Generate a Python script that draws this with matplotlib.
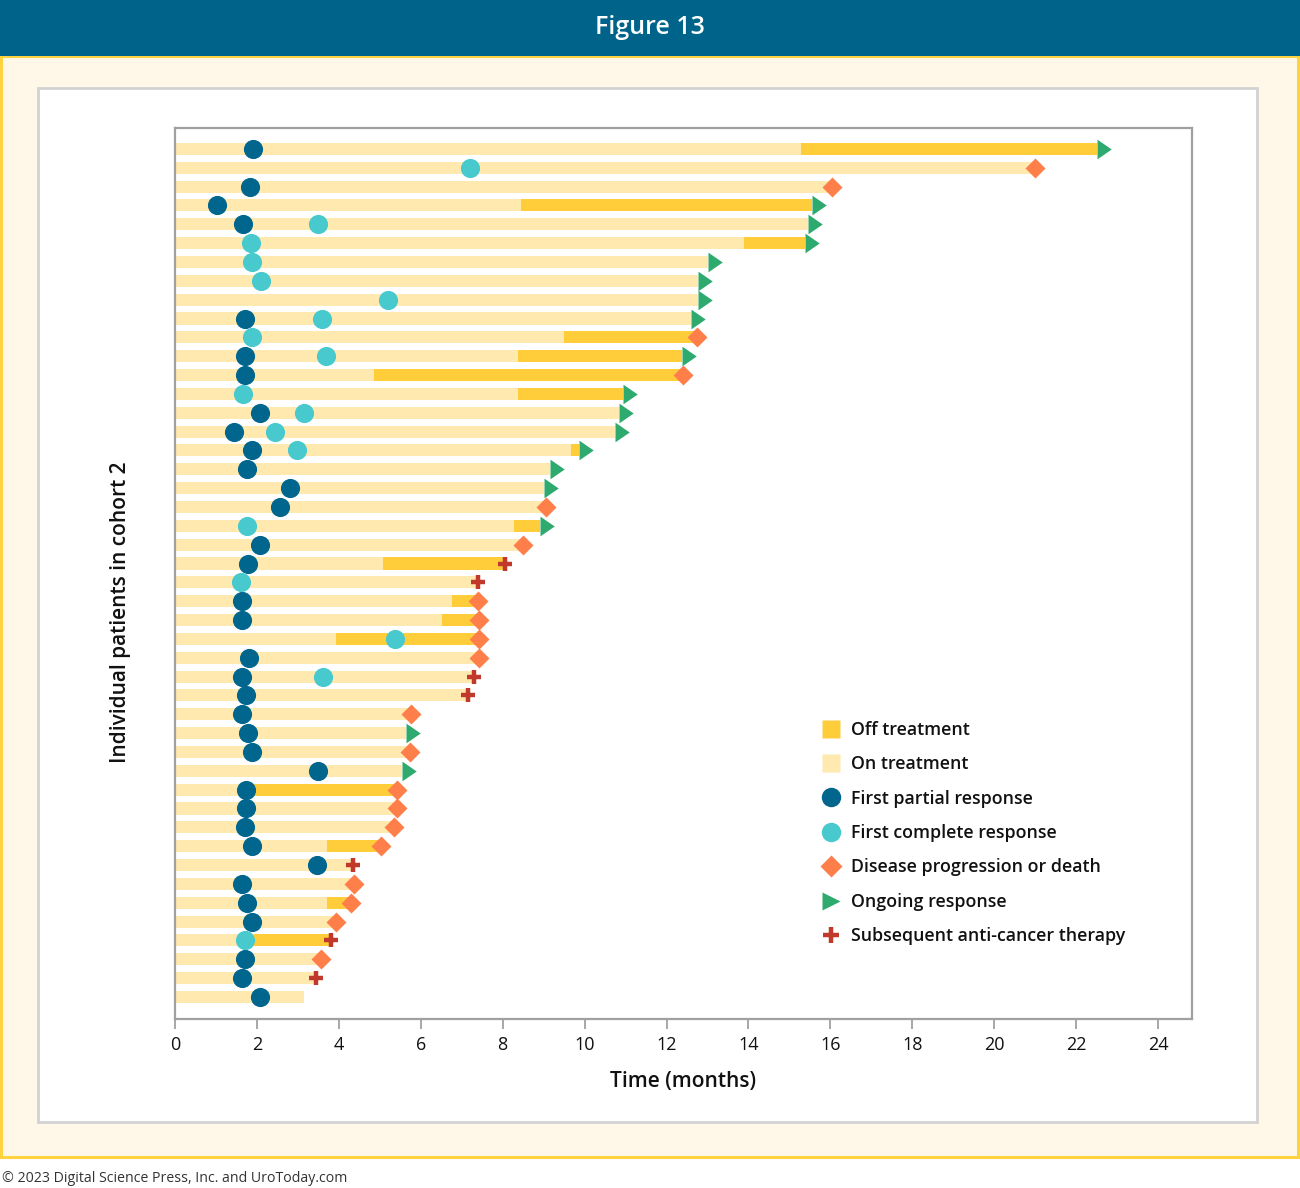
import numpy as np
import matplotlib
matplotlib.use("Agg")
import matplotlib.pyplot as plt
from matplotlib.patches import Rectangle
from matplotlib.path import Path
from matplotlib.lines import Line2D
from matplotlib.markers import MarkerStyle

plt.rcParams['font.family'] = ['Open Sans', 'DejaVu Sans']

nan = np.nan
# ---- data (rows listed top to bottom) ----
end_time = [22.5, 21.0, 16.05, 15.55, 15.45, 15.39, 13.02, 12.78, 12.76, 12.6,
            12.75, 12.37, 12.4, 10.95, 10.83, 10.74, 9.86, 9.15, 9.02, 9.05,
            8.90, 8.49, 8.05, 7.4, 7.4, 7.42, 7.42, 7.42, 7.3, 7.15,
            5.75, 5.64, 5.74, 5.55, 5.42, 5.42, 5.35, 5.04, 4.35, 4.38,
            4.3, 3.92, 3.8, 3.57, 3.45, 3.15]
off_start = [15.28, nan, nan, 8.44, nan, 13.88, nan, nan, nan, nan,
             9.50, 8.37, 4.85, 8.37, nan, nan, 9.68, nan, nan, nan,
             8.28, nan, 5.08, nan, 6.76, 6.53, 3.94, nan, nan, nan,
             nan, nan, nan, nan, 1.93, nan, nan, 3.72, nan, nan,
             3.72, nan, 1.93, nan, nan, nan]
partial_resp = [1.90, nan, 1.84, 1.02, 1.65, nan, nan, nan, nan, 1.71,
                nan, 1.70, 1.70, nan, 2.08, 1.43, 1.88, 1.77, 2.81, 2.56,
                nan, 2.08, 1.79, nan, 1.63, 1.63, nan, 1.80, 1.64, 1.73,
                1.64, 1.79, 1.89, 3.50, 1.74, 1.74, 1.72, 1.88, 3.46, 1.63,
                1.76, 1.88, nan, 1.70, 1.63, 2.07]
complete_resp = [nan, 7.2, nan, nan, 3.49, 1.85, 1.89, 2.10, 5.19, 3.58,
                 1.89, 3.68, nan, 1.66, 3.15, 2.45, 2.99, nan, nan, nan,
                 1.77, nan, nan, 1.61, nan, nan, 5.36, nan, 3.62, nan,
                 nan, nan, nan, nan, nan, nan, nan, nan, nan, nan,
                 nan, nan, 1.72, nan, nan, nan]
# O = ongoing response, D = disease progression or death, S = subsequent therapy, '' = none
end_event = ['O', 'D', 'D', 'O', 'O', 'O', 'O', 'O', 'O', 'O',
             'D', 'O', 'D', 'O', 'O', 'O', 'O', 'O', 'O', 'D',
             'O', 'D', 'S', 'S', 'D', 'D', 'D', 'D', 'S', 'S',
             'D', 'O', 'D', 'O', 'D', 'D', 'D', 'D', 'S', 'D',
             'D', 'D', 'S', 'D', 'S', '']
x_ticks = list(range(0, 25, 2))
legend_labels = ['Off treatment', 'On treatment', 'First partial response',
                 'First complete response', 'Disease progression or death',
                 'Ongoing response', 'Subsequent anti-cancer therapy']

# ---- colours ----
C_ON = '#FFE9AE'
C_OFF = '#FFCD3A'
C_PR = '#00668E'
C_CR = '#48C9CE'
C_PD = '#FF7F4A'
C_ONG = '#2EAA6E'
C_SUB = '#C0392B'

W, H = 1300, 1188
fig = plt.figure(figsize=(W / 100, H / 100), dpi=100, facecolor='white')

def fx(px):
    return px / W

def fy(py):
    return 1 - py / H

# frame decorations
fig.patches.append(Rectangle((fx(1), fy(1157)), fx(1297), (1157 - 56) / H, transform=fig.transFigure,
                             facecolor='#FFF8E8', edgecolor='#FFD23F', lw=2.2, zorder=-10))
fig.patches.append(Rectangle((0, fy(56)), 1, 56 / H, transform=fig.transFigure,
                             facecolor='#00648A', edgecolor='none', zorder=-9))
fig.patches.append(Rectangle((fx(38), fy(1122)), fx(1257 - 38), (1122 - 88) / H, transform=fig.transFigure,
                             facecolor='white', edgecolor='#D2D2D2', lw=2, zorder=-8))
fig.text(0.5, fy(28), 'Figure 13', ha='center', va='center', color='white', fontsize=18,
         fontweight='semibold', family=['Open Sans', 'DejaVu Sans'])
fig.text(fx(2), fy(1178), '\u00a9 2023 Digital Science Press, Inc. and UroToday.com', ha='left', va='center',
         color='#333333', fontsize=10.2)

ax = fig.add_axes([fx(175), fy(1019), fx(1192 - 175), (1019 - 128) / H])
ax.set_zorder(2)
ax.set_facecolor('white')
n = len(end_time)
y = np.arange(n, 0, -1)
bar_h = 0.64

end_arr = np.array(end_time)
off_arr = np.array(off_start)
ax.barh(y, end_arr, height=bar_h, color=C_ON, zorder=2)
has_off = ~np.isnan(off_arr)
ax.barh(y[has_off], end_arr[has_off] - off_arr[has_off], left=off_arr[has_off], height=bar_h,
        color=C_OFF, zorder=3)

ax.plot(partial_resp, y, 'o', color=C_PR, ms=13.8, mec='none', zorder=5, linestyle='none')
ax.plot(complete_resp, y, 'o', color=C_CR, ms=13.8, mec='none', zorder=5, linestyle='none')

tri = MarkerStyle(Path([(0, -1), (1.45, 0), (0, 1), (0, -1)],
                       [Path.MOVETO, Path.LINETO, Path.LINETO, Path.CLOSEPOLY]))
ev = np.array(end_event)
ax.plot(end_arr[ev == 'O'], y[ev == 'O'], linestyle='none', marker=tri, ms=20.5, color=C_ONG,
        mec='none', zorder=6)
ax.plot(end_arr[ev == 'D'], y[ev == 'D'], linestyle='none', marker='D', ms=10.5, color=C_PD,
        mec='none', zorder=6)
ax.plot(end_arr[ev == 'S'], y[ev == 'S'], linestyle='none', marker='+', ms=10.5, mew=3.2, color=C_SUB,
        zorder=6)

ax.set_xlim(0, 24.83)
ax.set_ylim(-0.17, n + 1.11)
ax.set_yticks([])
ax.set_xticks(x_ticks)
ax.tick_params(axis='x', length=7, width=1.3, color='#A0A0A0', labelsize=13, labelcolor='#111111', pad=5)
for s in ax.spines.values():
    s.set_color('#A0A0A0')
    s.set_linewidth(1.6)

fig.text(0.5 * (fx(175) + fx(1192)), fy(1081), 'Time (months)', ha='center', va='center', fontsize=15,
         fontweight='semibold', color='#111111')
fig.text(fx(121), fy(612), 'Individual patients in cohort 2', rotation=90, ha='center', va='center',
         fontsize=15, fontweight='semibold', color='#111111')

handles = [
    Line2D([], [], linestyle='none', marker='s', ms=13.5, color=C_OFF, mec='none'),
    Line2D([], [], linestyle='none', marker='s', ms=13.5, color=C_ON, mec='none'),
    Line2D([], [], linestyle='none', marker='o', ms=14, color=C_PR, mec='none'),
    Line2D([], [], linestyle='none', marker='o', ms=14, color=C_CR, mec='none'),
    Line2D([], [], linestyle='none', marker='D', ms=11, color=C_PD, mec='none'),
    Line2D([], [], linestyle='none', marker='>', ms=13, color=C_ONG, mec='none'),
    Line2D([], [], linestyle='none', marker='+', ms=12, mew=3.2, color=C_SUB),
]
leg = ax.legend(handles, legend_labels, loc='upper left', bbox_to_anchor=(fx(820), fy(721)),
                bbox_transform=fig.transFigure, frameon=False, fontsize=12.8, labelspacing=0.92,
                handletextpad=0.55, handlelength=1.2, borderpad=0, borderaxespad=0)
for t in leg.get_texts():
    t.set_color('#111111')
    t.set_fontweight('semibold')

fig.savefig('out.png', dpi=100, facecolor='white')
